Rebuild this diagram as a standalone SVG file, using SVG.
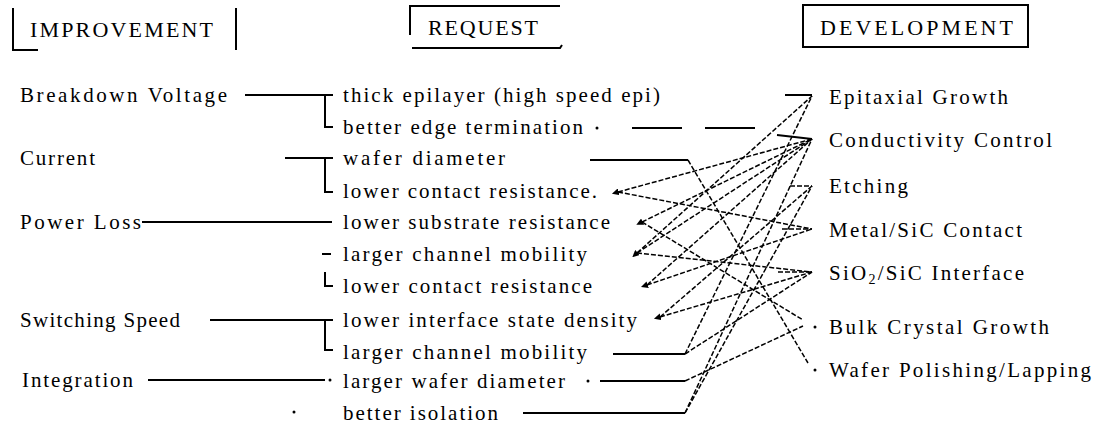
<svg xmlns="http://www.w3.org/2000/svg" width="1100" height="428" viewBox="0 0 1100 428">
<style>
text{font-family:"Liberation Serif","Times New Roman",serif;fill:#000}
.h{font-size:22px}
.t{font-size:21px}
.s{fill:none;stroke:#000;stroke-width:2}
.d{fill:none;stroke:#000;stroke-width:1.5;stroke-dasharray:5 2}
.dot{fill:#000}
</style>
<defs>
<marker id="ah" viewBox="0 0 10 10" refX="1" refY="5" markerWidth="7" markerHeight="7" orient="auto-start-reverse" markerUnits="userSpaceOnUse">
<path d="M10,5 L0,0 L0,10 Z" fill="#000"/>
</marker>
</defs>

<g id="headers">
<g id="hdr-improvement">
<path class="s" d="M13,8 V50 H38 M236,8 V50"/>
<text class="h" x="30" y="37" textLength="183" lengthAdjust="spacing">IMPROVEMENT</text>
</g>
<g id="hdr-request">
<path class="s" d="M410,35 V6 H560 M412,48 H560 L562,45"/>
<text class="h" x="428" y="35" textLength="110" lengthAdjust="spacing">REQUEST</text>
</g>
<g id="hdr-development">
<rect class="s" x="803" y="5" width="225" height="42"/>
<text class="h" x="820" y="35" textLength="193" lengthAdjust="spacing">DEVELOPMENT</text>
</g>
</g>

<g id="improvement">
<g id="imp-breakdown"><text class="t" x="20" y="102" textLength="207" lengthAdjust="spacing">Breakdown Voltage</text></g>
<g id="imp-current"><text class="t" x="20" y="165" textLength="75" lengthAdjust="spacing">Current</text></g>
<g id="imp-powerloss"><text class="t" x="20" y="229" textLength="121" lengthAdjust="spacing">Power Loss</text></g>
<g id="imp-switching"><text class="t" x="20" y="327" textLength="160" lengthAdjust="spacing">Switching Speed</text></g>
<g id="imp-integration"><text class="t" x="22" y="387" textLength="111" lengthAdjust="spacing">Integration</text></g>
</g>

<g id="request">
<g id="req1"><text class="t" x="343" y="102" textLength="317" lengthAdjust="spacing">thick epilayer (high speed epi)</text></g>
<g id="req2"><text class="t" x="343" y="134" textLength="240" lengthAdjust="spacing">better edge termination</text></g>
<g id="req3"><text class="t" x="343" y="165" textLength="162" lengthAdjust="spacing">wafer diameter</text></g>
<g id="req4"><text class="t" x="343" y="198" textLength="254" lengthAdjust="spacing">lower contact resistance.</text></g>
<g id="req5"><text class="t" x="343" y="229" textLength="267" lengthAdjust="spacing">lower substrate resistance</text></g>
<g id="req6"><text class="t" x="343" y="261" textLength="244" lengthAdjust="spacing">larger channel mobility</text></g>
<g id="req7"><text class="t" x="343" y="293" textLength="249" lengthAdjust="spacing">lower contact resistance</text></g>
<g id="req8"><text class="t" x="343" y="327" textLength="294" lengthAdjust="spacing">lower interface state density</text></g>
<g id="req9"><text class="t" x="343" y="359" textLength="244" lengthAdjust="spacing">larger channel mobility</text></g>
<g id="req10"><text class="t" x="343" y="388" textLength="222" lengthAdjust="spacing">larger wafer diameter</text></g>
<g id="req11"><text class="t" x="343" y="420" textLength="155" lengthAdjust="spacing">better isolation</text></g>
</g>

<g id="development">
<g id="dev-epi"><text class="t" x="829" y="104" textLength="179" lengthAdjust="spacing">Epitaxial Growth</text></g>
<g id="dev-cond"><text class="t" x="829" y="147" textLength="223" lengthAdjust="spacing">Conductivity Control</text></g>
<g id="dev-etch"><text class="t" x="829" y="193" textLength="79" lengthAdjust="spacing">Etching</text></g>
<g id="dev-metal"><text class="t" x="829" y="237" textLength="193" lengthAdjust="spacing">Metal/SiC Contact</text></g>
<g id="dev-sio2"><text class="t" x="829" y="280" textLength="195" lengthAdjust="spacing">SiO<tspan font-size="14" dy="4">2</tspan><tspan dy="-4">/SiC Interface</tspan></text></g>
<g id="dev-bulk"><text class="t" x="829" y="334" textLength="220" lengthAdjust="spacing">Bulk Crystal Growth</text></g>
<g id="dev-wafer"><text class="t" x="829" y="377" textLength="262" lengthAdjust="spacing">Wafer Polishing/Lapping</text></g>
</g>

<g id="connectors">
<!-- improvement to request -->
<path class="s" d="M245,95 H333 M325,95 V127 H333"/>
<path class="s" d="M285,158 H333 M325,158 V192 H333"/>
<path class="s" d="M142,222 H332"/>
<path class="s" d="M322,254 H331"/>
<path class="s" d="M325,272 V286 H333"/>
<path class="s" d="M210,320 H333 M325,320 V350 H333"/>
<path class="s" d="M148,380 H325"/>
<circle class="dot" cx="330" cy="380" r="1.5"/>
<circle class="dot" cx="294" cy="412" r="1.5"/>

<!-- request to development: horizontal leads -->
<circle class="dot" cx="597" cy="128" r="1.5"/>
<path class="s" d="M632,128 H682 M705,128 H755 M777,135 L812,139"/>
<path class="s" d="M590,160 H688"/>
<path class="s" d="M613,354 H685"/>
<circle class="dot" cx="588" cy="381" r="1.5"/>
<path class="s" d="M600,381 H685"/>
<path class="s" d="M523,413 H685"/>

<!-- stubs at development side -->
<path class="s" d="M785,95 H812"/>
<path class="d" d="M782,229 H812"/>
<path class="d" d="M778,272 H812"/>
<path class="d" d="M790,186 H812"/>
<circle class="dot" cx="815" cy="327" r="1.5"/>
<circle class="dot" cx="815" cy="370" r="1.5"/>

<!-- diagonals -->
<path class="d" d="M688,160 L808,363"/>
<path class="d" d="M618,192 L812,139" marker-start="url(#ah)"/>
<path class="d" d="M618,192 L812,229"/>
<path class="d" d="M642,222 L812,139" marker-start="url(#ah)"/>
<path class="d" d="M642,222 L803,320"/>
<path class="d" d="M637,253 L812,96" marker-start="url(#ah)"/>
<path class="d" d="M637,253 L812,272"/>
<path class="d" d="M637,253 L812,139"/>
<path class="d" d="M647,285 L812,229" marker-start="url(#ah)"/>
<path class="d" d="M647,285 L812,139"/>
<path class="d" d="M660,317 L812,272" marker-start="url(#ah)"/>
<path class="d" d="M660,317 L812,186"/>
<path class="d" d="M685,354 L812,272"/>
<path class="d" d="M685,354 L812,96"/>
<path class="d" d="M685,381 L803,326"/>
<path class="d" d="M685,413 L812,139"/>
<path class="d" d="M685,413 L812,186"/>
</g>
</svg>
